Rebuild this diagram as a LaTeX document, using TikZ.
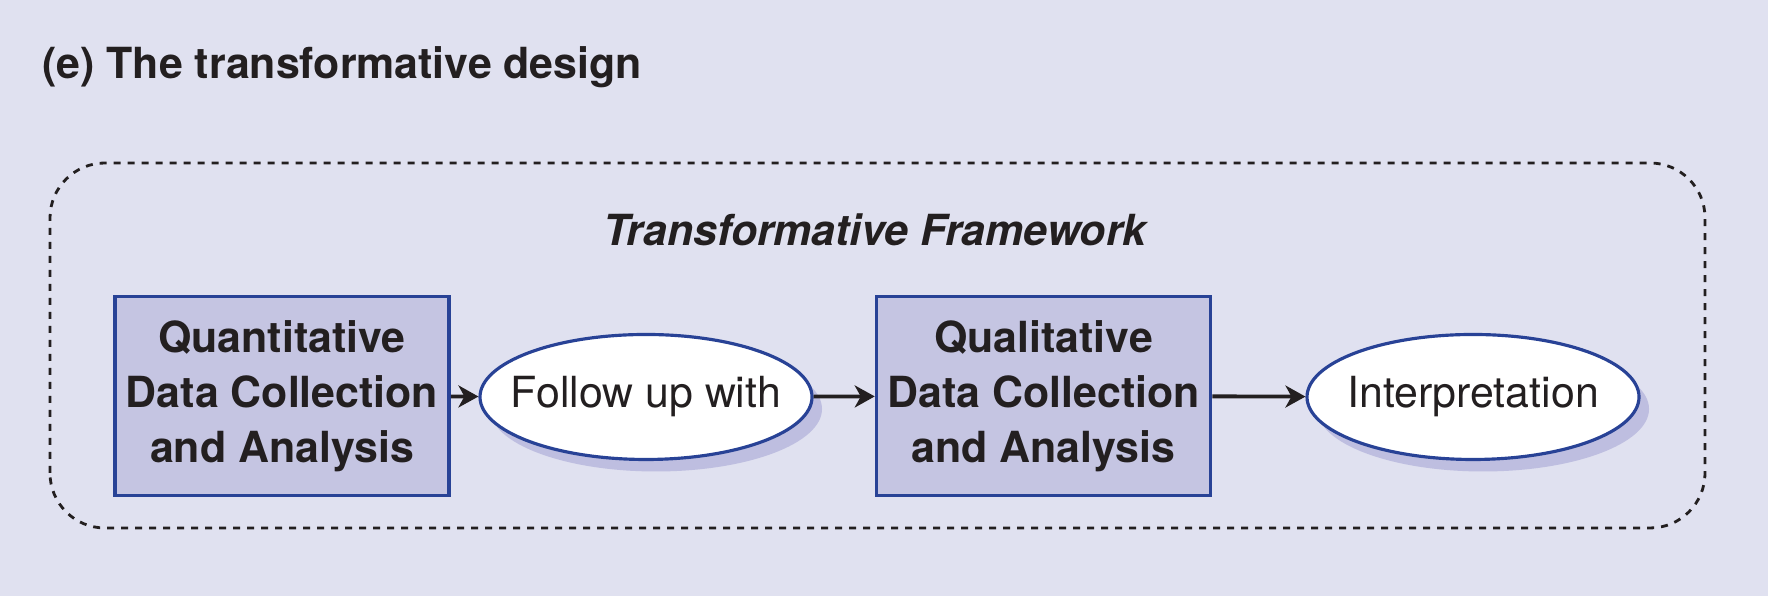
\documentclass[tikz,border=0pt]{standalone}
\usepackage{fontspec}
\setmainfont{TeX Gyre Heros}
\usepackage{tikz}
\usetikzlibrary{shapes, arrows.meta, positioning, shadows}
\definecolor{panelbg}{RGB}{224,225,240}
\definecolor{boxfill}{RGB}{197,197,226}
\definecolor{boxline}{RGB}{40,66,150}
\definecolor{shadowlav}{RGB}{190,190,224}
\definecolor{inkdark}{RGB}{35,31,32}
\newcommand{\ovaltext}[1]{\makebox[0pt]{\raisebox{-0.6mm}{#1}}}

\begin{document}
\begin{tikzpicture}[
  text=inkdark,
  font=\fontsize{12.2}{15.6}\selectfont,
  databox/.style={draw=boxline, fill=boxfill, line width=1pt, minimum width=3.34cm, minimum height=1.99cm, align=center, inner sep=0pt, font=\fontsize{12.2}{15.6}\selectfont\bfseries},
  stepoval/.style={ellipse, draw=boxline, fill=white, line width=0.9pt, minimum width=3.32cm, minimum height=1.25cm, inner sep=0pt, drop shadow={shadow xshift=1mm, shadow yshift=-1.2mm, fill=shadowlav, opacity=1}},
  flow/.style={-{Stealth[length=2mm, width=2.2mm, inset=0.6mm]}, line width=1.1pt, draw=inkdark}
]
  \fill[panelbg] (0,0) rectangle (17.68,5.96);
  \useasboundingbox (0,0) rectangle (17.68,5.96);

  \node[anchor=base west, font=\fontsize{12.2}{15.6}\selectfont\bfseries] (heading) at (0.30,5.17) {(e) The transformative design};

  \draw[dash pattern=on 0.7mm off 0.7mm, line width=0.8pt, draw=inkdark, rounded corners=0.55cm] (0.50,0.68) rectangle (17.05,4.33);
  \node[anchor=base, font=\fontsize{12.2}{15.6}\selectfont\bfseries\itshape] (frame) at (8.75,3.50) {Transformative Framework};

  \node[databox] (quan) at (2.82,2.0) {Quantitative\\Data Collection\\and Analysis};
  \node[stepoval] (follow) at (6.46,1.99) {\ovaltext{Follow up with}};
  \node[databox] (qual) at (10.435,2.0) {Qualitative\\Data Collection\\and Analysis};
  \node[stepoval] (interp) at (14.73,1.99) {\ovaltext{Interpretation}};

  \draw[flow] (quan) -- (follow);
  \draw[flow] (follow) -- (qual);
  \draw[flow] (qual) -- (interp);
\end{tikzpicture}
\end{document}
